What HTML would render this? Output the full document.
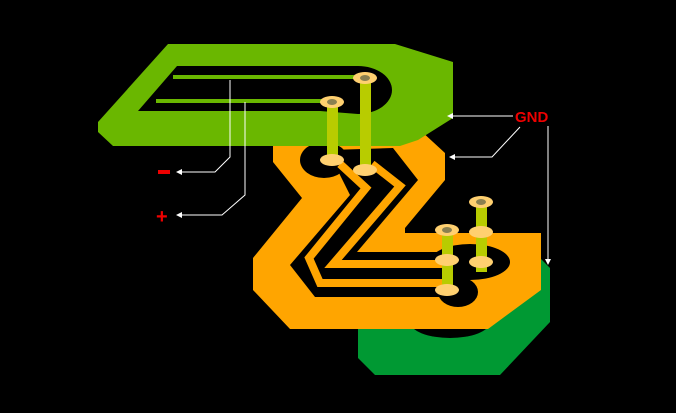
<!DOCTYPE html>
<html><head><style>body{margin:0;background:#000}svg{display:block}</style></head><body>
<svg width="676" height="413" viewBox="0 0 676 413" xmlns="http://www.w3.org/2000/svg">
<rect width="676" height="413" fill="#000"/>
<polygon points="412,258 540,258 550,268 550,322 500,375 375,375 358,358 358,316" fill="#009933"/>
<ellipse cx="450" cy="322" rx="40" ry="16" fill="#000"/>
<polygon points="273,145 392,145 420,130 445,153 445,180 405,228 405,233 541,233 541,290 488,329 290,329 253,290 253,258 302,198 273,162" fill="#ffa500"/>
<ellipse cx="324" cy="160" rx="24" ry="18" fill="#000"/>
<ellipse cx="470" cy="262" rx="40" ry="18" fill="#000"/>
<ellipse cx="458" cy="292" rx="20" ry="15" fill="#000"/>
<polygon points="330,150 393,148 418,180 357,252 445,252 445,297 315,297 290,265 350,195 340,175" fill="#000"/>
<polyline points="340,164 366,188 309,258 320,283 445,283" fill="none" stroke="#ffa500" stroke-width="8"/>
<polyline points="372,164 400,186 333,264 445,264" fill="none" stroke="#ffa500" stroke-width="8"/>
<polygon points="168,44 395,44 453,62 453,118 418,140 400,146 113,146 98,132 98,122" fill="#6ab700"/>
<path d="M177,66 L358,66 A34,24 0 0 1 358,114 L320,111 L138,111 Z" fill="#000"/>
<rect x="173" y="75" width="185" height="4" fill="#6ab700"/>
<rect x="156" y="99" width="170" height="4" fill="#6ab700"/>
<g fill="#b8cc00">
<rect x="327" y="102" width="11" height="60"/>
<rect x="360" y="78" width="11" height="94"/>
<rect x="442" y="230" width="11" height="62"/>
<rect x="476" y="202" width="11" height="70"/>
</g>
<g fill="#ffd070">
<ellipse cx="332" cy="102" rx="12" ry="6"/><ellipse cx="365" cy="78" rx="12" ry="6"/>
<ellipse cx="332" cy="160" rx="12" ry="6"/><ellipse cx="365" cy="170" rx="12" ry="6"/>
<ellipse cx="447" cy="230" rx="12" ry="6"/><ellipse cx="481" cy="202" rx="12" ry="6"/>
<ellipse cx="447" cy="260" rx="12" ry="6"/><ellipse cx="481" cy="232" rx="12" ry="6"/>
<ellipse cx="447" cy="290" rx="12" ry="6"/><ellipse cx="481" cy="262" rx="12" ry="6"/>
</g>
<g fill="#8a8050">
<ellipse cx="332" cy="102" rx="5" ry="3"/><ellipse cx="365" cy="78" rx="5" ry="3"/>
<ellipse cx="447" cy="230" rx="5" ry="3"/><ellipse cx="481" cy="202" rx="5" ry="3"/>
</g>
<g fill="none" stroke="#fff" stroke-width="1">
<polyline points="230,80 230,157 215,172 178,172"/>
<polyline points="245,102 245,195 222,215 178,215"/>
<polyline points="513,116 450,116"/>
<polyline points="520,127 492,157 452,157"/>
<polyline points="548,126 548,262"/>
</g>
<g fill="#fff">
<polygon points="176,172 182,169 182,175"/>
<polygon points="176,215 182,212 182,218"/>
<polygon points="447,116 453,113 453,119"/>
<polygon points="449,157 455,154 455,160"/>
<polygon points="548,265 545,259 551,259"/>
</g>
<g fill="#e00" font-family="Liberation Sans, sans-serif" font-weight="bold">
<text x="515" y="122" font-size="15">GND</text>
<rect x="158" y="170" width="12" height="4"/>
<text x="156" y="223" font-size="20">+</text>
</g>
</svg>
</body></html>
